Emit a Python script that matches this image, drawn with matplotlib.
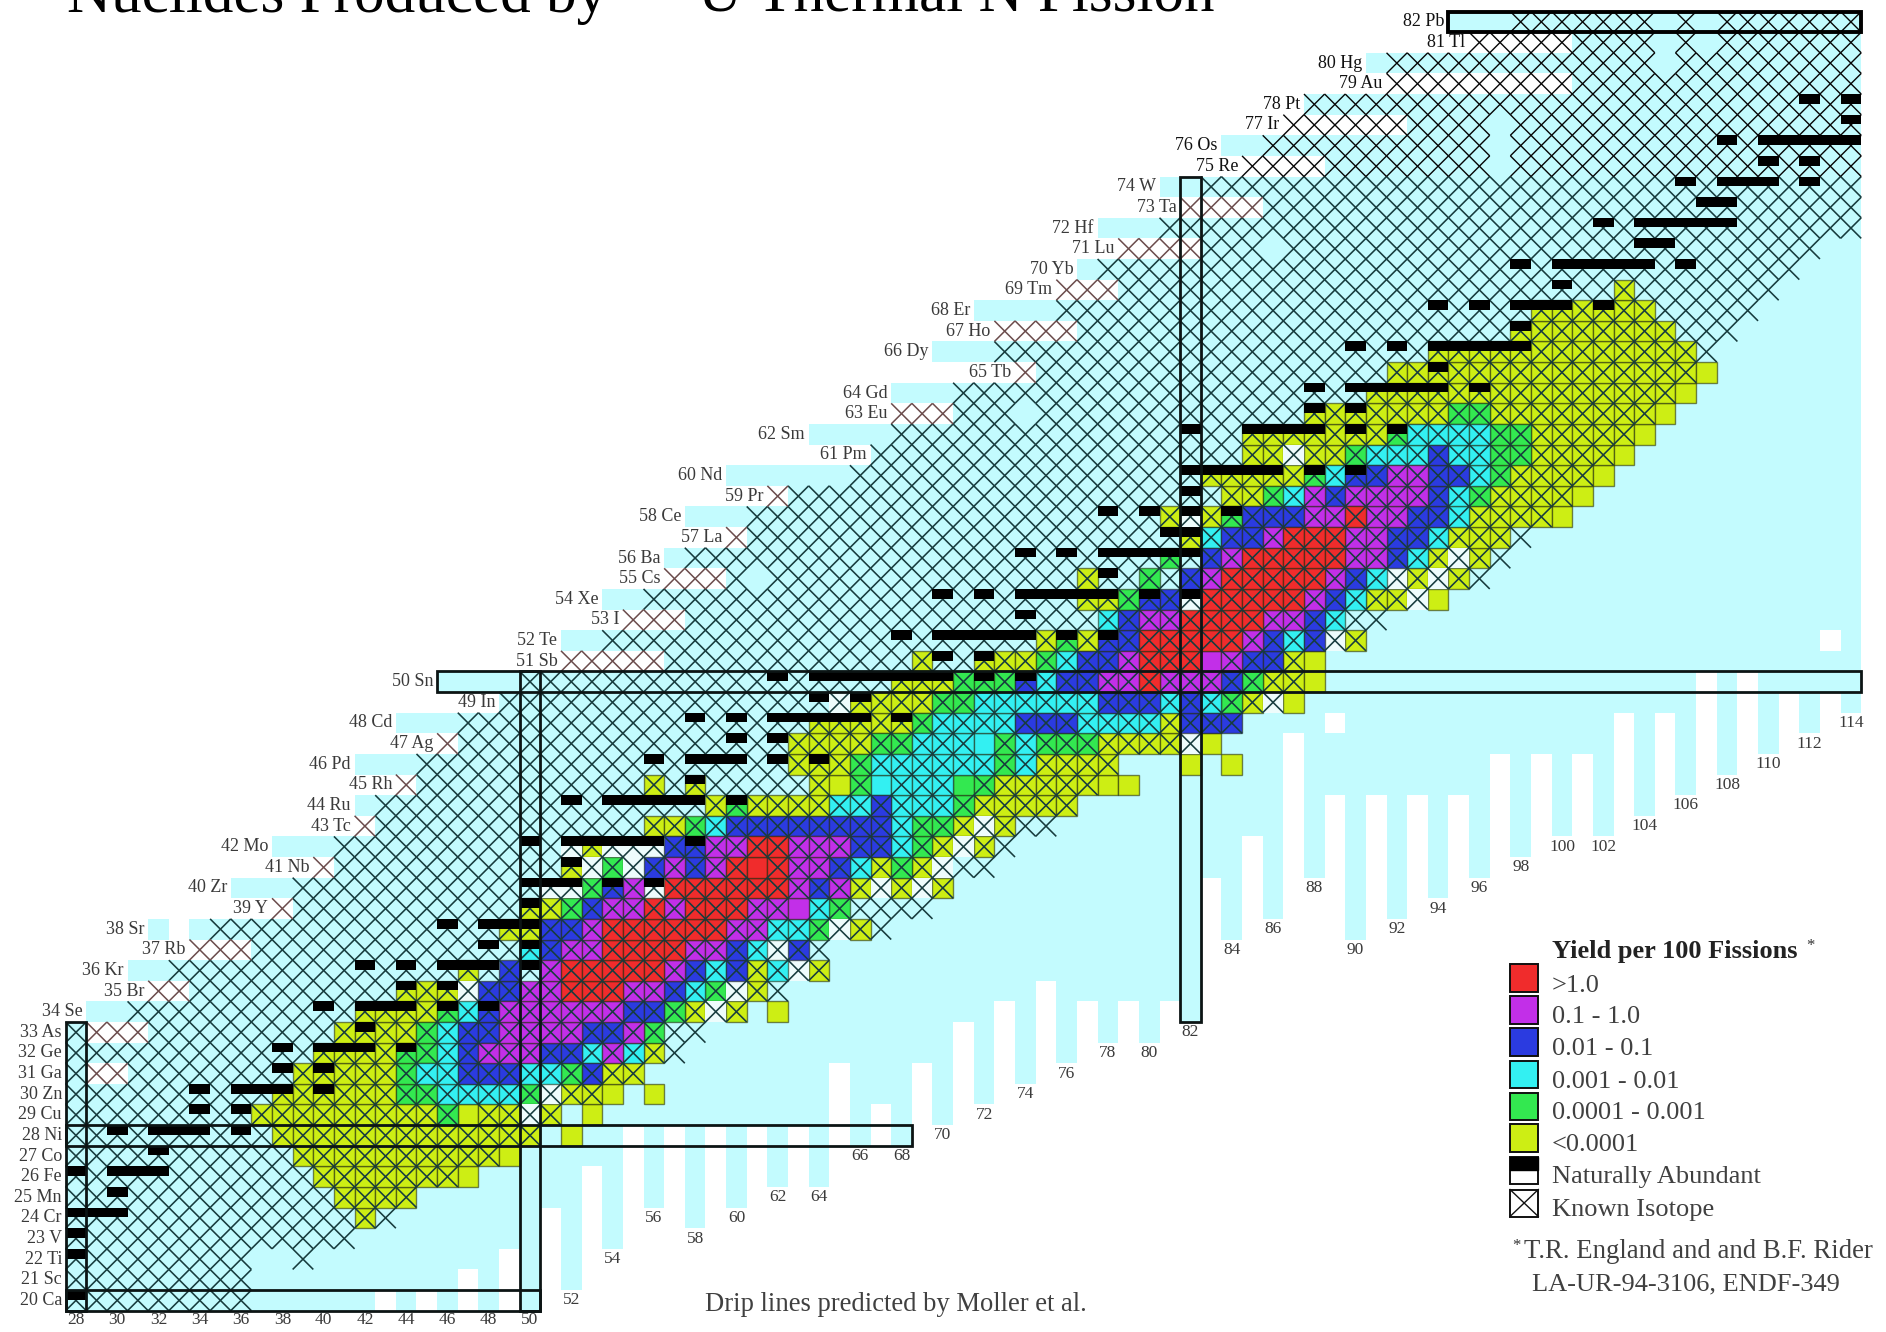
import re
import numpy as np
import matplotlib
matplotlib.use("Agg")
import matplotlib.pyplot as plt
from matplotlib.collections import LineCollection
from matplotlib.patches import Rectangle

plt.rcParams['font.family'] = ['Liberation Serif', 'DejaVu Serif']

symbols = ["Ca", "Sc", "Ti", "V", "Cr", "Mn", "Fe", "Co", "Ni", "Cu", "Zn", "Ga", "Ge", "As", "Se", "Br",
           "Kr", "Rb", "Sr", "Y", "Zr", "Nb", "Mo", "Tc", "Ru", "Rh", "Pd", "Ag", "Cd", "In", "Sn", "Sb",
           "Te", "I", "Xe", "Cs", "Ba", "La", "Ce", "Pr", "Nd", "Pm", "Sm", "Eu", "Gd", "Tb", "Dy", "Ho",
           "Er", "Tm", "Yb", "Lu", "Hf", "Ta", "W", "Re", "Os", "Ir", "Pt", "Au", "Hg", "Tl", "Pb"]
z_values = list(range(20, 83))

# first neutron number of each row, Z = 20..82
cyan_first = [28, 28, 28, 28, 28, 28, 28, 28, 28, 28, 28, 28, 28, 28, 29, 32, 31, 34, 32, 38, 36, 40, 38, 42, 42,
              44, 42, 46, 44, 49, 46, 52, 52, 55, 54, 57, 57, 60, 58, 62, 60, 67, 64, 68, 68, 74, 70, 73, 72, 76,
              77, 79, 78, 82, 81, 85, 84, 87, 88, 92, 91, 96, 95]
hatch_first = [28, 28, 28, 28, 28, 28, 28, 28, 28, 28, 28, 28, 28, 28, 31, 32, 33, 34, 35, 38, 39, 40, 41, 42, 43,
               44, 45, 46, 47, 49, 50, 52, 54, 55, 56, 57, 58, 60, 61, 62, 66, 67, 68, 68, 71, 74, 73, 73, 76, 76,
               78, 79, 81, 82, 83, 85, 86, 87, 88, 92, 92, 96, 98]
hatch_last = [36, 36, 36, 41, 43, 44, 46, 48, 50, 51, 53, 55, 57, 58, 60, 62, 64, 64, 67, 69, 70, 72, 73, 75, 76,
              77, 78, 82, 84, 86, 87, 87, 90, 91, 93, 96, 97, 98, 99, 100, 101, 102, 103, 104, 105, 106, 107, 108,
              109, 110, 111, 112, 114, 114, 114, 114, 114, 114, 114, 114, 114, 114, 114]
hatch_extra = [(22, 39)]
hatch_holes = [(29, 47), (39, 63), (41, 61), (45, 65), (45, 67), (45, 71), (47, 72), (51, 83),
               (63, 74), (55, 61), (71, 86), (77, 97), (76, 97), (75, 97), (81, 105), (80, 105), (81, 107),
               (82, 105), (82, 107)]

# lowest Z with cyan background for N = 28..114
drip_n = list(range(28, 115))
drip_min = [20] * 15 + [21, 20, 21, 20, 22, 20, 23, 20, 25, 21, 27, 23, 29, 25, 29, 24, 29, 25, 29, 26, 29, 26, 32,
                        28, 30, 28, 32, 29, 34, 30, 35, 31, 36, 32, 35, 33, 35, 33, 35, 34, 41, 38, 43, 39, 48, 41,
                        45, 38, 45, 39, 45, 40, 45, 41, 47, 42, 47, 43, 47, 43, 49, 44, 49, 45, 51, 46, 51, 47, 50,
                        48, 50, 49]
white_runs = {31: (29, 30), 33: (29, 31), 35: (32, 33), 37: (34, 36), 38: (33, 33), 39: (38, 38), 41: (40, 40),
              43: (42, 42), 45: (44, 44), 47: (46, 46), 48: (89, 89), 51: (52, 56), 52: (113, 113), 53: (55, 57),
              55: (57, 59), 57: (60, 60), 59: (62, 62), 63: (68, 70), 65: (74, 74), 67: (73, 76), 69: (76, 78),
              71: (79, 82), 73: (82, 85), 75: (85, 88), 77: (87, 92), 79: (92, 100), 81: (96, 100)}

yield_rows = {
    24: "42Y", 25: "41-44Y", 26: "40-47Y", 27: "39-49Y", 28: "38-50Y 52Y",
    29: "37-45Y 46G 47-49Y 50W 51Y 53Y",
    30: "38-43Y 44-45G 46-49C 50G 51W 52-54Y 56Y",
    31: "39-43Y 44G 45-46C 47-49B 50-51C 52G 53B 54-55Y",
    32: "40-43Y 44-45G 46C 47B 48-50P 51-52B 53C 54P 55C 56Y",
    33: "41-44Y 45G 46C 47-48B 49-52P 53-54B 55P 56G",
    34: "42-45Y 46G 47C 48B 49-54P 55-56B 57G 58Y 59W 60Y 62Y",
    35: "44-46Y 47W 48-49B 50-51P 52-54R 55-56P 57B 58C 59G 60W 61Y",
    36: "47Y 49B 51P 52-56R 57P 58B 59C 60B 61Y 62C 63W 64Y",
    37: "50C 51B 52-53P 54-57R 58-59P 60B 61C 62W 63B",
    38: "49-50Y 51-52B 53P 54-59R 60-61P 62-63C 64G 65W 66Y",
    39: "50-51Y 52G 53B 54-55P 56R 57P 58-60R 61-63P 64C 65G",
    40: "51-52W 53G 54B 55P 56W 57-62R 63P 64B 65P 66Y 67W 68Y 69W 70Y",
    41: "52Y 53W 54G 55W 56B 57P 58B 59P 60-62R 63-64P 65B 66C 67Y 68G 69Y 70W",
    42: "52W 53Y 54-56W 57-58B 59-60P 61-62R 63-65P 66-67B 68C 69G 70Y 71W 72Y",
    43: "56-57Y 58G 59C 60-67B 68C 69-70G 71Y 72W 73Y",
    44: "59Y 60G 61-64Y 65-66C 67B 68-70C 71G 72-76Y",
    45: "56Y 58Y 64-65Y 66G 67-70C 71-72G 73-79Y",
    46: "63-65Y 66G 67-72C 73G 74C 75-78Y 82Y 84Y",
    47: "63-66Y 67-68G 69-72C 73G 74C 75-77G 78-81Y 82W 83Y",
    48: "64-68Y 69G 70-73C 74-76B 77-80C 81Y 82-84B",
    49: "65W 66-69Y 70-71G 72-77C 78-80B 81C 82B 83C 84G 85Y 86W 87Y",
    50: "68-70Y 71-73G 74B 75C 76-77B 78-79P 80R 81-83P 84B 85G 86-88Y",
    51: "69Y 72-74Y 75G 76C 77-78B 79P 80-82R 83-84P 85-86B 87-88Y",
    52: "75Y 76G 77Y 78-79B 80-84R 85P 86B 87C 88B 89W 90Y",
    53: "78C 79B 80-81P 82-85R 86-87P 88B 89C",
    54: "77-78Y 79G 80-81B 82W 83-87R 88P 89B 90C 91-92Y 93W 94Y",
    55: "77Y 80G 82B 83P 84-88R 89P 90B 91C 92W 93Y 94W 95Y",
    56: "81G 83B 84P 85-89R 90-91P 92B 93C 94Y 95W 96Y",
    57: "82Y 83C 84-85B 86P 87-89R 90-91P 92-93B 94C 95-97Y",
    58: "81Y 82W 83Y 84G 85-87B 88-89P 90R 91-92P 93-94B 95C 96-100Y",
    59: "84-85Y 86G 87C 88P 89B 90-93P 94B 95C 96G 97-101Y",
    60: "83-87Y 88G 89C 90-91B 92-93P 94-95B 96C 97G 98-102Y",
    61: "85-86Y 87W 88-89Y 90G 91-93C 94B 95-96C 97-98G 99-103Y",
    62: "85-91Y 92G 93-96C 97-98G 99-104Y",
    63: "88-94Y 95-96G 97-105Y",
    64: "91-106Y", 65: "92-107Y", 66: "94-106Y", 67: "98-105Y", 68: "99-104Y", 69: "103Y",
}

natural_rows = {
    20: "28", 22: "28", 23: "28", 24: "28-30", 25: "30", 26: "28 30-32", 27: "32", 28: "30 32-34 36", 29: "34 36",
    30: "34 36-38 40", 31: "38 40", 32: "38 40-42 44", 33: "42", 34: "40 42-44 46 48", 35: "44 46",
    36: "42 44 46-48 50", 37: "48 50", 38: "46 48-50", 39: "50", 40: "50-52 54 56", 41: "52", 42: "50 52-56 58",
    44: "52 54-58 60", 45: "58", 46: "56 58-60 62 64", 47: "60 62", 48: "58 60 62-66 68", 49: "64 66",
    50: "62 64-70 72 74", 51: "70 72", 52: "68 70-74 76 78", 53: "74", 54: "70 72 74-78 80 82", 55: "78",
    56: "74 76 78-82", 57: "81-82", 58: "78 80 82 84", 59: "82", 60: "82-86 88 90", 62: "82 85-88 90 92",
    63: "88 90", 64: "88 90-94 96", 65: "94", 66: "90 92 94-98", 67: "98", 68: "94 96 98-100 102", 69: "100",
    70: "98 100-104 106", 71: "104-105", 72: "102 104-108", 73: "107-108", 74: "106 108-110 112", 75: "110 112",
    76: "108 110-114", 77: "114", 78: "112 114",
}

# magic number boxes: (first N, last N, first Z, last Z)
boxes = [(28, 50, 20, 20), (28, 28, 20, 33), (28, 68, 28, 28), (50, 50, 20, 50), (46, 114, 50, 50), (82, 82, 34, 74)]
pb_box = (95, 114, 82, 82)

col_labels = list(range(28, 115, 2))
col_label_z = [19.07] * 12 + [20, 22, 24, 23, 24, 25, 25, 27, 27, 28, 29, 30, 31, 32, 32, 33, 37, 38, 40, 37, 38,
                              39, 40, 41, 42, 42, 43, 44, 45, 46, 47, 48]

yield_colors = {"R": "#f02c2c", "P": "#c22fe8", "B": "#2b3be0", "C": "#33f0f2", "G": "#33e850", "Y": "#cdee14",
                "W": "#eefcfc"}
legend_labels = [">1.0", "0.1 - 1.0", "0.01 - 0.1", "0.001 - 0.01", "0.0001 - 0.001", "<0.0001"]
legend_codes = ["R", "P", "B", "C", "G", "Y"]
BG_CYAN = "#c3fbfe"


def parse_cells(text):
    out = []
    for tok in text.split():
        m = re.match(r"(\d+)(?:-(\d+))?([A-Z]?)", tok)
        a = int(m.group(1))
        b = int(m.group(2)) if m.group(2) else a
        for n in range(a, b + 1):
            out.append((n, m.group(3)))
    return out


fig = plt.figure(figsize=(18.86, 13.32), dpi=100, facecolor="white")
ax = fig.add_axes([0, 0, 1, 1])

# background cells
drip = dict(zip(drip_n, drip_min))
bg_n, bg_z = [], []
for z, first in zip(z_values, cyan_first):
    for n in range(first, 115):
        if z < drip[n]:
            continue
        run = white_runs.get(z)
        if run and run[0] <= n <= run[1]:
            continue
        bg_n.append(n)
        bg_z.append(z)
ax.bar(bg_n, 1, bottom=np.array(bg_z) - 0.5, width=1, color=BG_CYAN, linewidth=0, antialiased=False, zorder=1)

# yield cells
by_code = {}
for z, row in yield_rows.items():
    for n, code in parse_cells(row):
        by_code.setdefault(code, []).append((n, z))
for code, cells in by_code.items():
    ns = [c[0] for c in cells]
    zs = np.array([c[1] for c in cells])
    if code == "W":
        ax.bar(ns, 1, bottom=zs - 0.5, width=1, color=yield_colors[code], linewidth=0, zorder=2)
    else:
        ax.bar(ns, 1, bottom=zs - 0.5, width=1, color=yield_colors[code], edgecolor=(0.1, 0.12, 0, 0.55),
               linewidth=1.0, zorder=2)

# naturally abundant, top half of the cell
nat_n, nat_z = [], []
for z, row in natural_rows.items():
    for n, _ in parse_cells(row):
        nat_n.append(n)
        nat_z.append(z)
ax.bar(nat_n, 0.47, bottom=np.array(nat_z) + 0.03, width=1, color="black", linewidth=0, zorder=4)

# known isotopes
low_seg, high_seg, white_seg = [], [], []
hatched = []
for z, a, b in zip(z_values, hatch_first, hatch_last):
    hatched += [(z, n) for n in range(a, b + 1)]
hatched += hatch_extra
for z, n in hatched:
    if (z, n) in hatch_holes:
        continue
    seg = [[(n - 0.5, z - 0.5), (n + 0.5, z + 0.5)], [(n - 0.5, z + 0.5), (n + 0.5, z - 0.5)]]
    run = white_runs.get(z)
    if z >= 75:
        high_seg += seg
    elif run and run[0] <= n <= run[1]:
        white_seg += seg
    else:
        low_seg += seg
ax.add_collection(LineCollection(low_seg, colors="#173c3e", linewidths=1.15, zorder=3))
ax.add_collection(LineCollection(white_seg, colors="#6b4c4c", linewidths=1.1, zorder=3))
ax.add_collection(LineCollection(high_seg, colors="#050505", linewidths=1.0, zorder=3))

# magic number boxes
for n0, n1, z0, z1 in boxes:
    ax.add_patch(Rectangle((n0 - 0.5, z0 - 0.5), n1 - n0 + 1, z1 - z0 + 1, fill=False, edgecolor="#0c1414",
                           linewidth=2.0, zorder=5))
n0, n1, z0, z1 = pb_box
ax.add_patch(Rectangle((n0 - 0.5, z0 - 0.5), n1 - n0 + 1, z1 - z0 + 1, fill=False, edgecolor="black",
                       linewidth=2.8, zorder=5))

# element and neutron labels
for z, sym, first in zip(z_values, symbols, cyan_first):
    col = "#111111" if z >= 75 else "#3a3a3a"
    ax.text(first - 0.68, z, f"{z} {sym}", ha="right", va="center", fontsize=13, color=col, zorder=6)
for n, z in zip(col_labels, col_label_z):
    ax.text(n, z, str(n), ha="center", va="center", fontsize=12.5, color="#3a3a3a", zorder=6)

ax.set_xlim(24.32, 115.70)
ax.set_ylim(18.467, 83.06)
ax.axis("off")

# title, legend and notes are placed in pixels
lg = fig.add_axes([0, 0, 1, 1], facecolor="none")
lg.set_xlim(0, 1886)
lg.set_ylim(1332, 0)
lg.axis("off")

lg.text(67, 12, "Nuclides Produced by", fontsize=44, color="black", va="baseline")
lg.text(698, 12, "U Thermal N Fission", fontsize=44, color="black", va="baseline")

lg.text(1551.7, 958, "Yield per 100 Fissions", fontsize=19, fontweight="bold", color="#222222", va="baseline")
lg.text(1806, 950, "*", fontsize=12, color="#333333", va="baseline")
swatch_top = [964, 996, 1028, 1060.5, 1092.5, 1124]
legend_base = [991.7, 1023, 1055, 1088, 1119, 1150.7]
for top, base, code, label in zip(swatch_top, legend_base, legend_codes, legend_labels):
    lg.add_patch(Rectangle((1510, top), 28.3, 27.5, facecolor=yield_colors[code], edgecolor="#101010", linewidth=1.4))
    lg.text(1551.7, base, label, fontsize=19, color="#404040", va="baseline")

lg.add_patch(Rectangle((1510, 1157), 28.3, 26.5, facecolor="white", edgecolor="#101010", linewidth=1.4))
lg.add_patch(Rectangle((1510, 1157), 28.3, 12.5, facecolor="black", edgecolor="black", linewidth=1.0))
lg.text(1551.7, 1183, "Naturally Abundant", fontsize=19, color="#404040", va="baseline")
lg.add_patch(Rectangle((1510, 1189.5), 28.3, 27, facecolor="white", edgecolor="#101010", linewidth=1.4))
lg.plot([1510, 1538.3], [1189.5, 1216.5], color="#101010", lw=1.0)
lg.plot([1510, 1538.3], [1216.5, 1189.5], color="#101010", lw=1.0)
lg.text(1551.7, 1215.7, "Known Isotope", fontsize=19, color="#404040", va="baseline")

lg.text(1512, 1250, "*", fontsize=12, color="#333333", va="baseline")
lg.text(1524, 1258, "T.R. England and and B.F. Rider", fontsize=19.3, color="#404040", va="baseline")
lg.text(1531.7, 1290, "LA-UR-94-3106, ENDF-349", fontsize=19, color="#404040", va="baseline")
lg.text(705, 1311, "Drip lines predicted by Moller et al.", fontsize=19.15, color="#404040", va="baseline")

fig.savefig("out.png", dpi=100, facecolor="white")
